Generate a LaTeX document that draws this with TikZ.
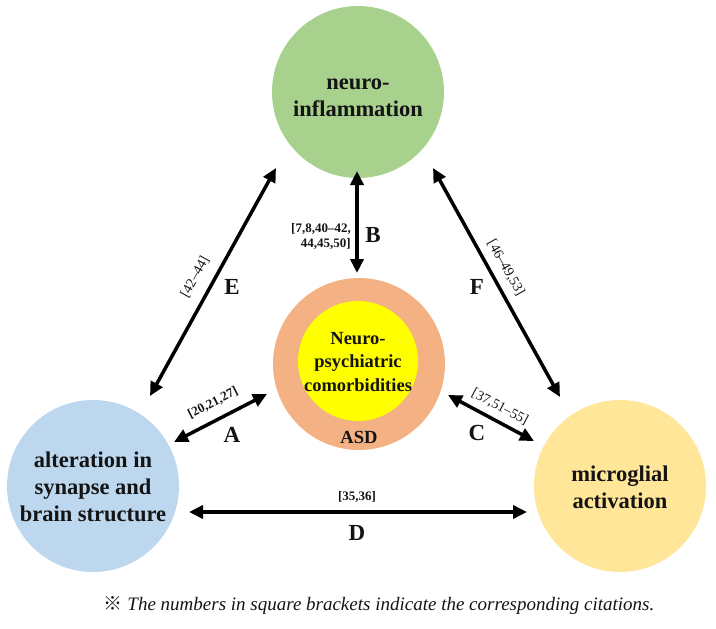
\documentclass[tikz,border=0pt]{standalone}
\usepackage{fontspec}
\setmainfont{Liberation Serif}
\newfontfamily\cjk{Noto Sans CJK JP}
\usetikzlibrary{arrows.meta}
\definecolor{cgreen}{HTML}{A9D18E}
\definecolor{cblue}{HTML}{BDD7EE}
\definecolor{cyel}{HTML}{FFE699}
\definecolor{corange}{HTML}{F4B183}
\definecolor{cinner}{HTML}{FFFF00}
\definecolor{ctext}{HTML}{141414}
\tikzset{
  bigcircle/.style={circle,inner sep=0pt,minimum size=172pt,draw=none},
  bigtext/.style={align=center,text=ctext,font=\bfseries\fontsize{22.5}{27}\selectfont},
  innertext/.style={align=center,text=ctext,font=\bfseries\fontsize{18.5}{23.5}\selectfont},
  letter/.style={text=ctext,font=\bfseries\fontsize{23}{26}\selectfont},
  cite/.style={text=ctext,font=\bfseries\fontsize{13}{15}\selectfont,inner sep=0pt},
  citereg/.style={text=ctext,font=\fontsize{14}{16}\selectfont,inner sep=0pt},
  biarrow/.style={{Triangle[length=14pt,width=13pt]}-{Triangle[length=14pt,width=13pt]},line width=3.5pt,draw=black},
}
\begin{document}
\begin{tikzpicture}[x=1pt,y=-1pt]
\useasboundingbox (0,0) rectangle (716,629);
% circles
\node[bigcircle,fill=cgreen] (infl) at (358,92) {};
\node[bigcircle,fill=cblue] (syn) at (93,486) {};
\node[bigcircle,fill=cyel] (micro) at (620,486) {};
\node[bigcircle,fill=corange] (asd) at (359,364) {};
\node[circle,inner sep=0pt,minimum size=120pt,fill=cinner] (neuro) at (358,361) {};
% texts
\node[bigtext] (inflT) at (358,98) {neuro-\\inflammation};
\node[bigtext] (synT) at (93,487) {alteration in\\synapse and\\brain structure};
\node[bigtext] (microT) at (620,487) {microglial\\activation};
\node[innertext] (neuroT) at (358,362) {Neuro-\\psychiatric\\comorbidities};
\node[innertext] (asdT) at (359,437) {ASD};
% arrow end points
\coordinate (eA) at (150,396); \coordinate (eB) at (276,168);
\coordinate (fA) at (433,168); \coordinate (fB) at (560,397);
\coordinate (bA) at (357,171); \coordinate (bB) at (357,273);
\coordinate (aA) at (174,442); \coordinate (aB) at (267,394);
\coordinate (cA) at (448,395); \coordinate (cB) at (534,441);
\coordinate (dA) at (189,512); \coordinate (dB) at (527,512);
\draw[biarrow] (eA) -- (eB);
\draw[biarrow] (fA) -- (fB);
\draw[biarrow] (bA) -- (bB);
\draw[biarrow] (aA) -- (aB);
\draw[biarrow] (cA) -- (cB);
\draw[biarrow] (dA) -- (dB);
% letters
\node[letter] (lE) at (232,287) {E};
\node[letter] (lF) at (477,287) {F};
\node[letter] (lB) at (373,235) {B};
\node[letter] (lA) at (232,435) {A};
\node[letter] (lC) at (477,433) {C};
\node[letter] (lD) at (357,533) {D};
% citations
\node[citereg,rotate=61] (citE) at (195,277) {[42--44]};
\node[citereg,rotate=-60.5] (citF) at (506,268) {[46--49,53]};
\node[cite,align=right,anchor=east] (citB) at (351,236) {[7,8,40--42,\\44,45,50]};
\node[cite,rotate=27] (citA) at (213,403) {[20,21,27]};
\node[citereg,rotate=-28] (citC) at (500,407) {[37,51--55]};
\node[cite] (citD) at (357,497) {[35,36]};
% caption
\node[text=ctext,font=\fontsize{19}{22}\selectfont] (cap) at (379,605) {{\cjk ※} \textit{The numbers in square brackets indicate the corresponding citations.}};
\end{tikzpicture}
\end{document}
